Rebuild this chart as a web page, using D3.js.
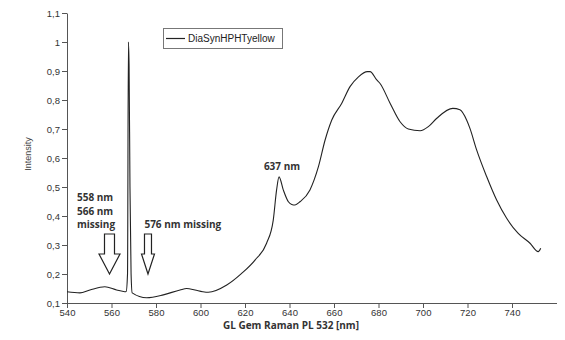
<!DOCTYPE html>
<html>
<head>
<meta charset="utf-8">
<script src="https://cdnjs.cloudflare.com/ajax/libs/d3/7.8.5/d3.min.js"></script>
<style>
  body { margin: 0; background: #fff; }
  svg { display: block; }
</style>
</head>
<body>
<div id="chart"></div>
<script>
// spectrum: wavelength [nm] and intensity
var wavelength = [540, 545.8, 550.3, 557, 562.3, 566, 566.6, 567.2, 567.6, 567.9, 568.3, 568.8, 569.3,
  575.8, 583.3, 590.8, 593.8, 597.5, 601, 603.5, 611.8, 618.5, 624.5, 629.7, 632.7, 634.2, 635.3,
  637.2, 639.5, 641, 642.5, 644.7, 649.2, 653, 656, 659, 663.5, 667.2, 671, 675, 676.2, 679.2,
  680.7, 685.2, 689.7, 693.4, 698.7, 702.4, 706.2, 713.4, 716.6, 719.6, 721.1, 724.1, 728.6,
  733.1, 737.6, 742.8, 748.1, 751.8, 752.9];
var intensity = [0.139, 0.135, 0.145, 0.156, 0.145, 0.139, 0.14, 0.2, 1.0, 0.92, 0.5, 0.2, 0.135,
  0.118, 0.128, 0.145, 0.15, 0.145, 0.139, 0.137, 0.162, 0.202, 0.248, 0.306, 0.386, 0.49, 0.535,
  0.49, 0.449, 0.44, 0.438, 0.449, 0.49, 0.57, 0.662, 0.731, 0.789, 0.846, 0.88, 0.898, 0.898, 0.869,
  0.857, 0.789, 0.725, 0.70, 0.694, 0.708, 0.737, 0.771, 0.766, 0.731, 0.702, 0.628, 0.536,
  0.455, 0.392, 0.34, 0.306, 0.277, 0.289];
var seriesName = "DiaSynHPHTyellow";
var xTicks = [540, 560, 580, 600, 620, 640, 660, 680, 700, 720, 740];
var yTicks = [0.1, 0.2, 0.3, 0.4, 0.5, 0.6, 0.7, 0.8, 0.9, 1, 1.1];
// arrows: position nm, top and tip in intensity units, shaft/head half widths px
var arrowNm = [559.1, 576.4];
var arrowTop = [0.338, 0.338];
var arrowTip = [0.2, 0.2];
var arrowShaft = [5, 3.5];
var arrowHead = [10.5, 6.5];
var noteText = ["558 nm", "566 nm", "missing", "576 nm missing", "637 nm"];
var noteNm = [544.5, 544.5, 544.5, 574.8, 628.5];
var noteY = [0.451, 0.405, 0.359, 0.359, 0.559];

var width = 565, height = 340;
var svg = d3.select("#chart").append("svg")
  .attr("width", width).attr("height", height);

var x = d3.scaleLinear().domain([540, 760]).range([67, 556.5]);
var y = d3.scaleLinear().domain([0.1, 1.1]).range([303, 13]);

var fmt = function(d){ return d3.format("")(d).replace(".", ","); };

var xAxis = svg.append("g")
  .attr("transform", "translate(0," + y(0.1) + ")")
  .call(d3.axisBottom(x).tickValues(xTicks).tickSize(5).tickPadding(1).tickSizeOuter(0));
var yAxis = svg.append("g")
  .attr("transform", "translate(" + x(540) + ",0)")
  .call(d3.axisLeft(y).tickValues(yTicks).tickFormat(fmt).tickSize(5).tickPadding(2).tickSizeOuter(0));
[xAxis, yAxis].forEach(function(a){
  a.selectAll("path, line").attr("stroke", "#555").attr("stroke-width", 1);
  a.selectAll("text").attr("fill", "#333")
    .style("font-family", "'Liberation Sans', Arial, sans-serif").style("font-size", "9.5px");
});

svg.append("text")
  .attr("x", 291).attr("y", 329)
  .attr("text-anchor", "middle")
  .style("font-family", "'Open Sans', sans-serif").style("font-weight", "bold")
  .style("font-size", "10px").attr("fill", "#333")
  .text("GL Gem Raman PL 532 [nm]");
svg.append("text")
  .attr("transform", "translate(31,154) rotate(-90)")
  .attr("text-anchor", "middle")
  .style("font-family", "'Liberation Sans', Arial, sans-serif")
  .style("font-size", "9px").attr("fill", "#444")
  .text("Intensity");

var pts = wavelength.map(function(w, i){ return [w, intensity[i]]; });
var line = d3.line().x(function(d){ return x(d[0]); }).y(function(d){ return y(d[1]); })
  .curve(d3.curveMonotoneX);
svg.append("path").datum(pts)
  .attr("d", line).attr("fill", "none")
  .attr("stroke", "#222").attr("stroke-width", 1.1);

// legend
var lg = svg.append("g");
lg.append("rect").attr("x", 163.5).attr("y", 28.5).attr("width", 119).attr("height", 20)
  .attr("fill", "#fff").attr("stroke", "#777");
lg.append("line").attr("x1", 166).attr("x2", 185).attr("y1", 38.5).attr("y2", 38.5)
  .attr("stroke", "#222").attr("stroke-width", 1.2);
lg.append("text").attr("x", 188).attr("y", 42)
  .style("font-family", "'Liberation Sans', Arial, sans-serif").style("font-size", "10px")
  .attr("fill", "#222").text(seriesName);

// arrows
arrowNm.forEach(function(n, i){
  var cx = x(n), t = y(arrowTop[i]), tip = y(arrowTip[i]);
  var hy = t + (tip - t) * 0.5, s = arrowShaft[i], h = arrowHead[i];
  var p = [[cx - s, t], [cx + s, t], [cx + s, hy], [cx + h, hy], [cx, tip], [cx - h, hy], [cx - s, hy]];
  svg.append("path").attr("d", d3.line()(p) + "Z")
    .attr("fill", "#fff").attr("stroke", "#222").attr("stroke-width", 1.2);
});

// notes
noteText.forEach(function(t, i){
  svg.append("text").attr("x", x(noteNm[i])).attr("y", y(noteY[i]))
    .style("font-family", "'Open Sans', sans-serif").style("font-weight", "bold")
    .style("font-size", "10px").attr("fill", "#333").text(t);
});
</script>
</body>
</html>
